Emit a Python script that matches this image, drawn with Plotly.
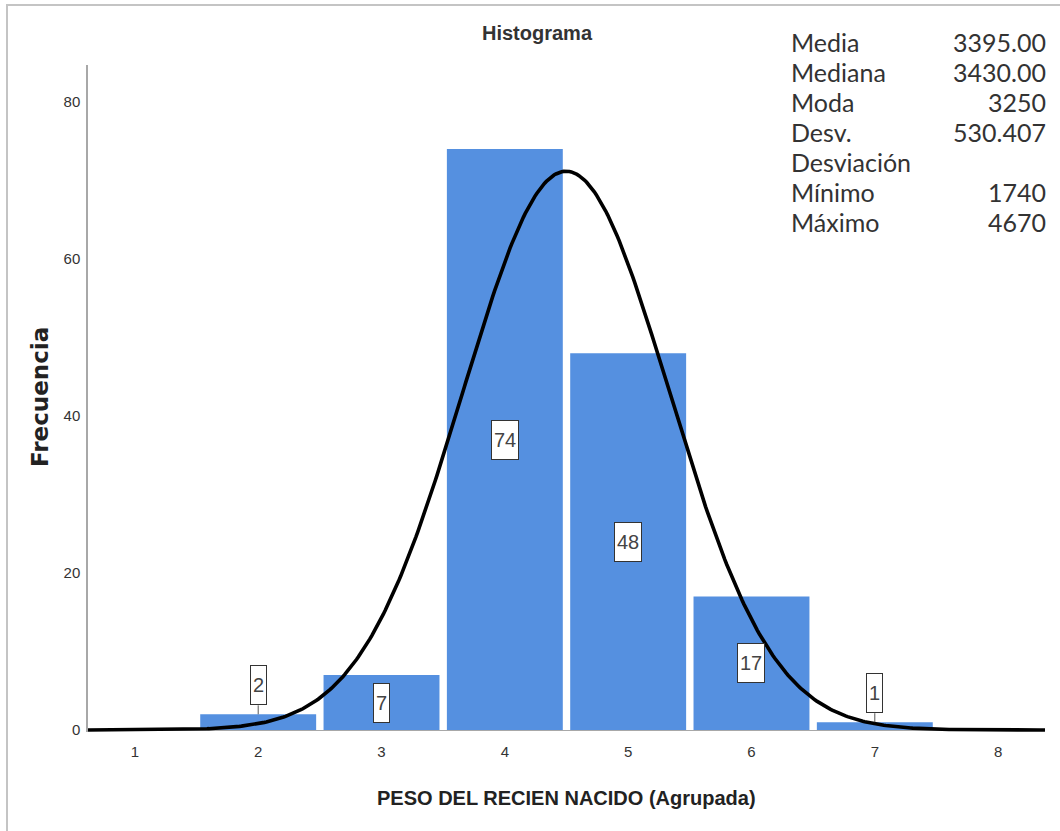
import numpy as np
import plotly.graph_objects as go

# ---------------- data ----------------
categories = [1, 2, 3, 4, 5, 6, 7, 8]
bar_x = [2, 3, 4, 5, 6, 7]
frequencies = [2, 7, 74, 48, 17, 1]
y_ticks = [0, 20, 40, 60, 80]

stat_labels = ["Media", "Mediana", "Moda", "Desv.", "Desviación", "Mínimo", "Máximo"]
stat_values = ["3395.00", "3430.00", "3250", "530.407", "", "1740", "4670"]

title_text = "Histograma"
x_title = "PESO DEL RECIEN NACIDO (Agrupada)"
y_title = "Frecuencia"

# ---------------- layout geometry ----------------
W, H = 1060, 831
L, R, T, B = 88, 15, 65, 99
X_RANGE = [0.62, 8.38]
Y_RANGE = [-0.25, 84.7]
PW, PH = W - L - R, H - T - B
PPU = PH / (Y_RANGE[1] - Y_RANGE[0])  # pixels per y unit


def px(xp):
    return (xp - L) / PW


def py(yp):
    return (H - B - yp) / PH


SANS = "Liberation Sans, Arial, sans-serif"
BAR_COLOR = "#5590e0"
AXIS_COLOR = "#a8a8a8"

# ---------------- fitted normal curve (from the frequencies) ----------------
xa = np.array(bar_x, dtype=float)
fa = np.array(frequencies, dtype=float)
N = fa.sum()
mean = (xa * fa).sum() / N
sd = np.sqrt((fa * (xa - mean) ** 2).sum() / (N - 1))
xs = np.linspace(X_RANGE[0], X_RANGE[1], 500)
ys = N / (sd * np.sqrt(2 * np.pi)) * np.exp(-0.5 * ((xs - mean) / sd) ** 2)

fig = go.Figure()
fig.add_trace(go.Bar(x=bar_x, y=frequencies, width=0.94,
                     marker=dict(color=BAR_COLOR, line=dict(width=0)),
                     hoverinfo="x+y"))
fig.add_trace(go.Scatter(x=xs, y=ys, mode="lines",
                         line=dict(color="black", width=3.6),
                         hoverinfo="skip"))

annotations = []
shapes = []

# data labels
BOX_H = 40
for x, v in zip(bar_x, frequencies):
    txt = str(v)
    w = 28 if len(txt) > 1 else 17
    if v * PPU > BOX_H + 4:
        yc = v / 2
    else:
        yc = v + 29 / PPU
        shapes.append(dict(type="line", xref="x", yref="y",
                           x0=x, x1=x, y0=v, y1=yc - (BOX_H / 2) / PPU,
                           line=dict(color="#555555", width=1)))
    annotations.append(dict(x=x, y=yc, xref="x", yref="y", text=txt,
                            showarrow=False, bgcolor="white",
                            bordercolor="#333333", borderwidth=1, borderpad=0,
                            width=w - 2, height=BOX_H - 2,
                            xanchor="center", yanchor="middle",
                            font=dict(family=SANS, size=20, color="#444444")))

# titles
annotations.append(dict(x=px(537), y=py(33), xref="paper", yref="paper",
                        text=title_text, showarrow=False,
                        xanchor="center", yanchor="middle",
                        font=dict(family=SANS, size=20, color="#333333", weight="bold")))
annotations.append(dict(x=px(566), y=py(798), xref="paper", yref="paper",
                        text=x_title, showarrow=False,
                        xanchor="center", yanchor="middle",
                        font=dict(family=SANS, size=20, color="#222222", weight="bold")))
annotations.append(dict(x=px(40), y=py(397), xref="paper", yref="paper",
                        text=y_title, showarrow=False, textangle=-90,
                        xanchor="center", yanchor="middle",
                        font=dict(family="DejaVu Sans", size=23, color="#222222", weight="bold")))

# statistics table
for i, (lab, val) in enumerate(zip(stat_labels, stat_values)):
    yc = 42 + 30 * i
    annotations.append(dict(x=px(789), y=py(yc), xref="paper", yref="paper",
                            text=lab, showarrow=False,
                            xanchor="left", yanchor="middle",
                            font=dict(family="Lato", size=25, color="#333333")))
    if val:
        annotations.append(dict(x=px(1048), y=py(yc), xref="paper", yref="paper",
                                text=val, showarrow=False,
                                xanchor="right", yanchor="middle",
                                font=dict(family="Lato", size=25, color="#333333")))

# outer frame (left and top edges)
shapes.append(dict(type="line", xref="paper", yref="paper",
                   x0=px(7), x1=px(7), y0=py(5), y1=py(840),
                   line=dict(color="#c4c4c4", width=2)))
shapes.append(dict(type="line", xref="paper", yref="paper",
                   x0=px(6), x1=px(1065), y0=py(5), y1=py(5),
                   line=dict(color="#c4c4c4", width=2)))

fig.update_layout(
    width=W, height=H,
    margin=dict(l=L, r=R, t=T, b=B),
    paper_bgcolor="white", plot_bgcolor="white",
    showlegend=False,
    annotations=annotations,
    shapes=shapes,
    xaxis=dict(range=X_RANGE, tickvals=categories, ticks="",
               showgrid=False, showline=False, zeroline=False,
               ticklabelstandoff=9,
               tickfont=dict(family=SANS, size=15, color="#333333")),
    yaxis=dict(range=Y_RANGE, tickvals=y_ticks, ticks="",
               showgrid=False, showline=True, linecolor=AXIS_COLOR, linewidth=1.5,
               zeroline=True, zerolinecolor=AXIS_COLOR, zerolinewidth=1,
               ticklabelstandoff=3,
               tickfont=dict(family=SANS, size=15, color="#333333")),
)

fig.write_html("out.html",
               config={"displayModeBar": False},
               post_script="document.body.style.margin='0';document.body.style.overflow='hidden';")
